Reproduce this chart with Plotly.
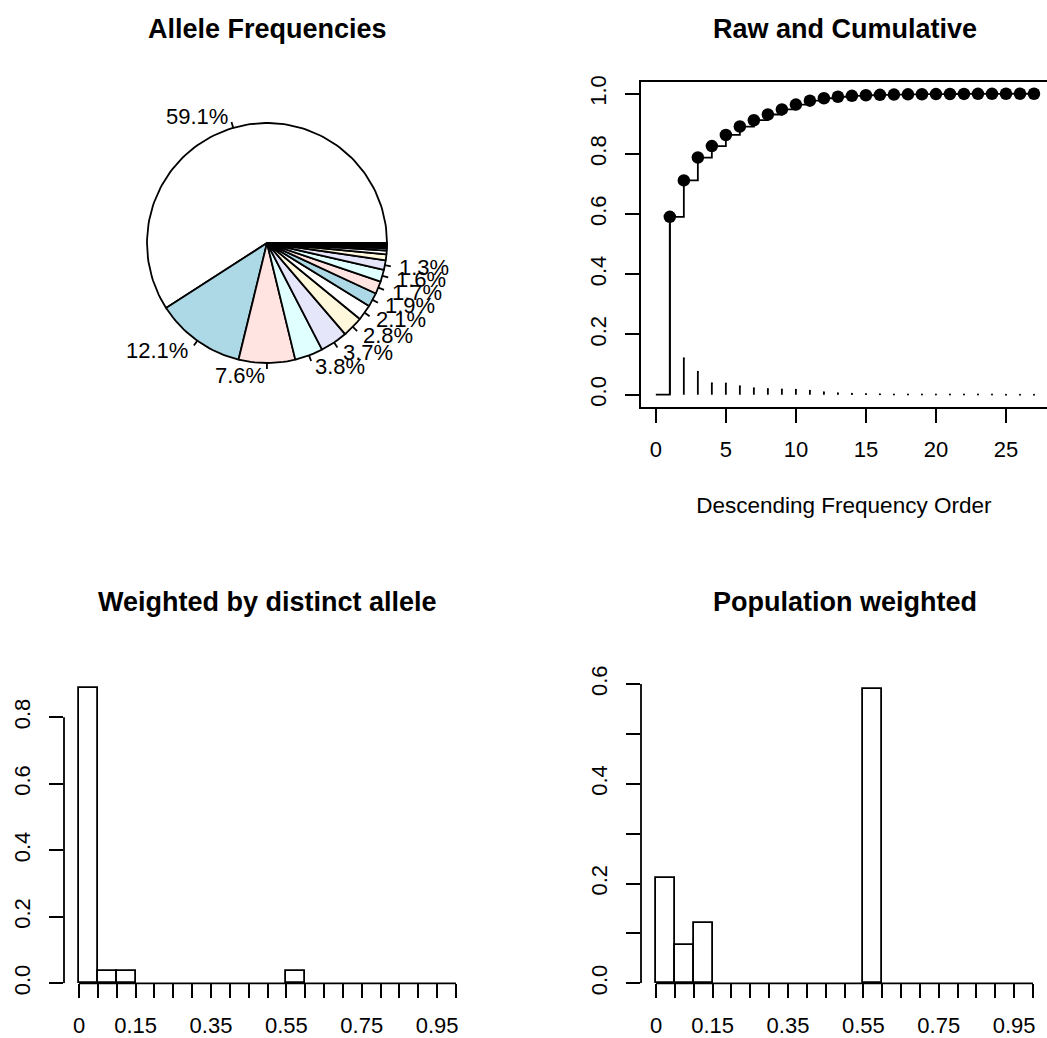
import numpy as np
import plotly.graph_objects as go

# ---------------- data ----------------
allele_freqs = [0.591, 0.121, 0.076, 0.038, 0.037, 0.028, 0.021, 0.019, 0.017, 0.016, 0.013,
                0.008, 0.005, 0.003, 0.002, 0.0013, 0.0009, 0.0007, 0.0005, 0.0004,
                0.0003, 0.0003, 0.0002, 0.0002, 0.0001, 0.0001, 0.0001]
pie_colors = ["#FFFFFF", "#ADD8E6", "#FFE4E1", "#E0FFFF", "#E6E6FA", "#FFF8DC"]
order_ticks = [0, 5, 10, 15, 20, 25]
cum_ticks = [0.0, 0.2, 0.4, 0.6, 0.8, 1.0]
hist_ticks = [round(0.05 * i, 2) for i in range(21)]
hist_tick_labels = {0.0: "0", 0.15: "0.15", 0.35: "0.35", 0.55: "0.55", 0.75: "0.75", 0.95: "0.95"}
distinct_ticks = [0.0, 0.2, 0.4, 0.6, 0.8]
pop_ticks = [0.0, 0.1, 0.2, 0.3, 0.4, 0.5, 0.6]
pop_tick_labels = {0.0: "0.0", 0.2: "0.2", 0.4: "0.4", 0.6: "0.6"}

W, H = 1047, 1038
FONT = "Liberation Sans, Arial, Helvetica, sans-serif"
TICK_SIZE = 22
TITLE_SIZE = 27
LW = 1.8

def px(xp):
    return xp / W

def py(yp):
    return 1 - yp / H

fig = go.Figure()

# ---------------- pie (drawn as polygons like R's pie) ----------------
f = np.array(allele_freqs, dtype=float)
frac = np.concatenate([[0.0], np.cumsum(f) / f.sum()])
radius = 0.8
edges = 200
lab_x, lab_y = [], []
for i in range(len(f)):
    n = max(2, int(np.floor(edges * (frac[i + 1] - frac[i]))))
    t = np.linspace(frac[i], frac[i + 1], n) * 2 * np.pi
    xs = list(radius * np.cos(t)) + [0.0]
    ys = list(radius * np.sin(t)) + [0.0]
    xs.append(xs[0]); ys.append(ys[0])
    fig.add_trace(go.Scatter(x=xs, y=ys, mode="lines", fill="toself",
                             fillcolor=pie_colors[i % len(pie_colors)],
                             line=dict(color="black", width=LW),
                             xaxis="x", yaxis="y", showlegend=False, hoverinfo="skip"))
    if f[i] >= 0.01:
        tm = (frac[i] + frac[i + 1]) / 2 * 2 * np.pi
        cx, cy = radius * np.cos(tm), radius * np.sin(tm)
        lab_x += [cx, 1.05 * cx, None]
        lab_y += [cy, 1.05 * cy, None]
        fig.add_annotation(x=1.1 * cx, y=1.1 * cy, xref="x", yref="y",
                           text=f"{f[i] * 100:.1f}%", showarrow=False,
                           xanchor="right" if cx < 0 else "left", yanchor="middle",
                           font=dict(family=FONT, size=TICK_SIZE, color="black"))
fig.add_trace(go.Scatter(x=lab_x, y=lab_y, mode="lines", line=dict(color="black", width=LW),
                         xaxis="x", yaxis="y", showlegend=False, hoverinfo="skip"))

# ---------------- raw and cumulative ----------------
order = list(range(1, len(f) + 1))
cum = np.cumsum(f)
fig.add_trace(go.Scatter(x=[0] + order, y=[0.0] + list(cum), mode="lines", line_shape="hv",
                         line=dict(color="black", width=LW), xaxis="x2", yaxis="y2",
                         showlegend=False, hoverinfo="skip"))
hx, hy = [], []
for o, v in zip(order, f):
    hx += [o, o, None]
    hy += [0, v, None]
fig.add_trace(go.Scatter(x=hx, y=hy, mode="lines", line=dict(color="black", width=LW),
                         xaxis="x2", yaxis="y2", showlegend=False, hoverinfo="skip"))
# round line caps of the raw-frequency spikes (visible even for tiny values)
fig.add_trace(go.Scatter(x=order, y=list(f), mode="markers",
                         marker=dict(color="black", size=2, symbol="circle", line=dict(width=0)),
                         xaxis="x2", yaxis="y2", showlegend=False, hoverinfo="skip"))
fig.add_trace(go.Scatter(x=order, y=cum, mode="markers", marker=dict(color="black", size=12.5),
                         xaxis="x2", yaxis="y2", showlegend=False, hoverinfo="skip"))

# ---------------- histograms ----------------
bins = dict(start=0, end=1, size=0.05)
fig.add_trace(go.Histogram(x=allele_freqs, xbins=bins, autobinx=False, histnorm="probability",
                           marker=dict(color="white", line=dict(color="black", width=LW)),
                           xaxis="x3", yaxis="y3", showlegend=False, hoverinfo="skip"))
fig.add_trace(go.Histogram(x=allele_freqs, y=allele_freqs, histfunc="sum", xbins=bins, autobinx=False,
                           marker=dict(color="white", line=dict(color="black", width=LW)),
                           xaxis="x4", yaxis="y4", showlegend=False, hoverinfo="skip"))

# ---------------- axes ----------------
scale = 150.0  # pixels per unit for the pie
pcx, pcy = 267.0, 243.0
tickfont = dict(family=FONT, size=TICK_SIZE, color="black")
common = dict(showgrid=False, zeroline=False, tickfont=tickfont, ticks="outside",
              ticklen=14, tickwidth=LW, tickcolor="black", fixedrange=True, automargin=False)

fig.update_layout(
    width=W, height=H, margin=dict(l=0, r=0, t=0, b=0, pad=0, autoexpand=False),
    paper_bgcolor="white", plot_bgcolor="rgba(0,0,0,0)",
    bargap=0, showlegend=False,
    xaxis=dict(domain=[0, 0.5], range=[-pcx / scale, (W / 2 - pcx) / scale], visible=False,
               fixedrange=True, automargin=False),
    yaxis=dict(domain=[0.5, 1], range=[-(H / 2 - pcy) / scale, pcy / scale], visible=False,
               fixedrange=True, automargin=False),
    xaxis2=dict(domain=[px(640.7), 1], range=[-1.08, (W - 656) / 14.0], anchor="y2",
                tickvals=order_ticks, ticktext=[str(v) for v in order_ticks],
                showline=True, linecolor="black", linewidth=LW, mirror=True,
                ticklabelstandoff=8,
                title=dict(text="Descending Frequency Order", font=dict(family=FONT, size=22.5, color="black"),
                           standoff=36), **common),
    yaxis2=dict(domain=[py(406.7), py(81.7)], range=[-0.04, 1.04], anchor="x2",
                tickvals=cum_ticks, ticktext=[f"{v:.1f}" for v in cum_ticks], tickangle=-90,
                showline=True, linecolor="black", linewidth=LW, ticklabelstandoff=10, **common),
    xaxis3=dict(domain=[px(64), px(471)], range=[-0.04, 1.04], anchor="y3",
                tickvals=hist_ticks, ticktext=[hist_tick_labels.get(v, "") for v in hist_ticks],
                showline=False, ticklabelstandoff=8, **common),
    yaxis3=dict(domain=[py(983.3), py(675)], range=[0, (983.3 - 675) / 332.5], anchor="x3",
                tickvals=distinct_ticks, ticktext=[f"{v:.1f}" for v in distinct_ticks], tickangle=-90,
                showline=False, ticklabelstandoff=10, **common),
    xaxis4=dict(domain=[px(641), 1], range=[-0.04, (W - 656) / 377.0], anchor="y4",
                tickvals=hist_ticks, ticktext=[hist_tick_labels.get(v, "") for v in hist_ticks],
                showline=False, ticklabelstandoff=8, **common),
    yaxis4=dict(domain=[py(983.3), py(675)], range=[0, (983.3 - 675) / 498.8], anchor="x4",
                tickvals=pop_ticks, ticktext=[pop_tick_labels.get(v, "") for v in pop_ticks], tickangle=-90,
                showline=False, ticklabelstandoff=10, **common),
)

# axis lines spanning only first..last tick (R style)
for xa, ya, yt in [("x3", "y3", distinct_ticks), ("x4", "y4", pop_ticks)]:
    fig.add_shape(type="line", xref=f"{xa} domain", yref=ya, x0=0, x1=0, y0=yt[0], y1=yt[-1],
                  line=dict(color="black", width=LW))
    fig.add_shape(type="line", xref=xa, yref=f"{ya} domain", x0=hist_ticks[0], x1=hist_ticks[-1], y0=0, y1=0,
                  line=dict(color="black", width=LW))

# titles
titles = [("Allele Frequencies", 267, 29), ("Raw and Cumulative", 845, 29),
          ("Weighted by distinct allele", 267.5, 602), ("Population weighted", 844.5, 602)]
for text, xp, yp in titles:
    fig.add_annotation(x=px(xp), y=py(yp), xref="paper", yref="paper", text=f"<b>{text}</b>",
                       showarrow=False, xanchor="center", yanchor="middle",
                       font=dict(family=FONT, size=TITLE_SIZE, color="black"))

fig.write_html("out.html")
